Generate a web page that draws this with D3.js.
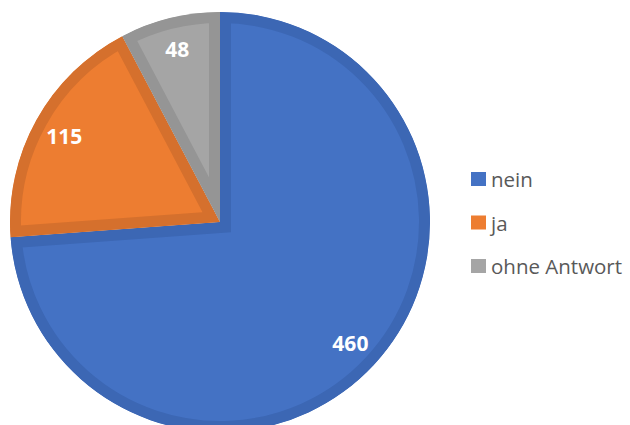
<!DOCTYPE html>
<html>
<head>
<meta charset="utf-8">
<script src="https://cdn.jsdelivr.net/npm/d3@7"></script>
<style>
  html, body { margin: 0; padding: 0; background: #fff; }
  svg { display: block; }
</style>
</head>
<body>
<svg id="chart" width="630" height="425"></svg>
<script>
// Antworten
const categories = ["nein", "ja", "ohne Antwort"];
const values = [460, 115, 48];
const fills = ["#4472C4", "#ED7D31", "#A5A5A5"];
const borders = ["#3C67B4", "#D5702D", "#959595"];

const svg = d3.select("#chart");
const cx = 220, cy = 222, R = 210, border = 11;

const pie = d3.pie().sort(null).value(d => d)(values);
const arc = d3.arc().innerRadius(0).outerRadius(R);
const labelArc = d3.arc().innerRadius(178).outerRadius(178);

const defs = svg.append("defs");
const g = svg.append("g").attr("transform", `translate(${cx},${cy})`);

// each slice gets an inner border by clipping a double-width stroke to its own shape
pie.forEach((p, i) => {
  defs.append("clipPath").attr("id", "clip" + i)
    .append("path").attr("d", arc(p));
  g.append("path")
    .attr("d", arc(p))
    .attr("fill", fills[i])
    .attr("stroke", borders[i])
    .attr("stroke-width", border * 2)
    .attr("stroke-linejoin", "miter")
    .attr("clip-path", `url(#clip${i})`);
});

g.selectAll("text.val")
  .data(pie)
  .join("text")
  .attr("class", "val")
  .attr("transform", d => `translate(${labelArc.centroid(d)})`)
  .attr("text-anchor", "middle")
  .attr("dominant-baseline", "central")
  .attr("font-family", "'Open Sans', 'Liberation Sans', sans-serif")
  .attr("font-weight", "bold")
  .attr("font-size", 21)
  .attr("fill", "#fff")
  .text(d => d.data);

// Legende
const legend = svg.append("g").attr("transform", "translate(471,172)");
categories.forEach((c, i) => {
  const row = legend.append("g").attr("transform", `translate(0,${i * 43.5})`);
  row.append("rect").attr("width", 15).attr("height", 14).attr("fill", fills[i]);
  row.append("text")
    .attr("x", 20).attr("y", 7)
    .attr("dominant-baseline", "central")
    .attr("font-family", "'Open Sans', 'Liberation Sans', sans-serif")
    .attr("font-size", 20.5)
    .attr("fill", "#595959")
    .text(c);
});
</script>
</body>
</html>
